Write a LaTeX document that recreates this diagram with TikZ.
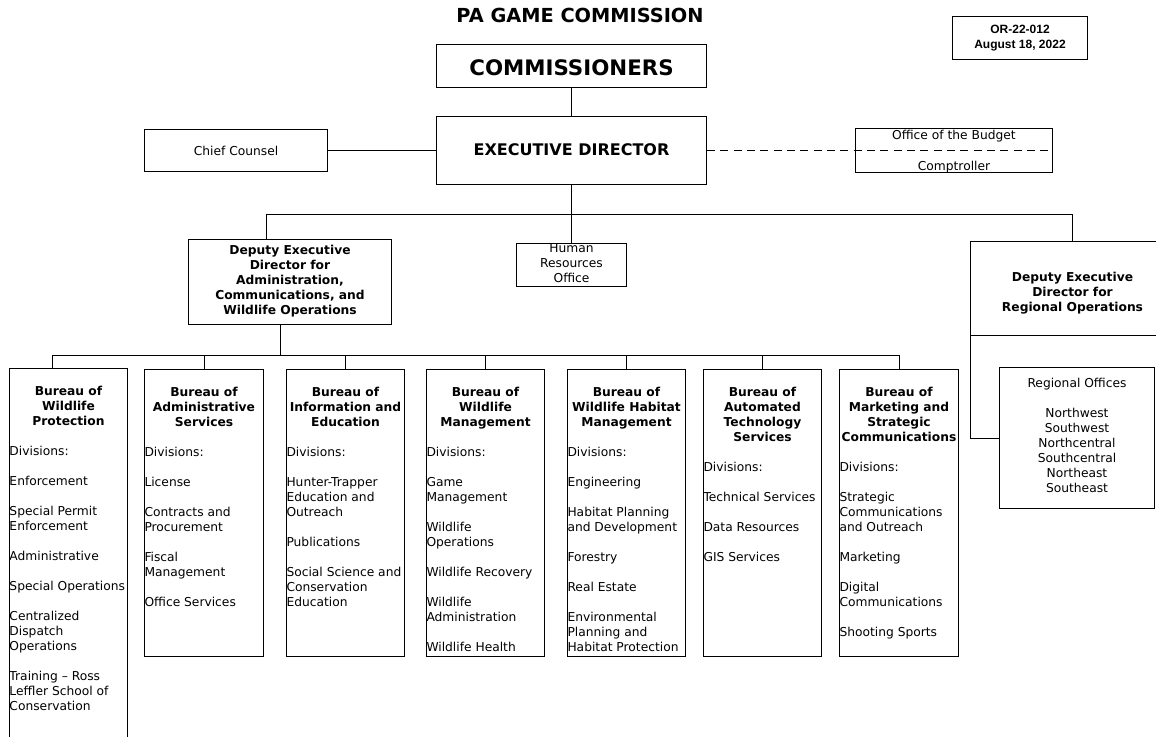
\documentclass[tikz,border=0pt]{standalone}
\usepackage{fontspec}
\setmainfont{DejaVu Sans}
\newfontfamily\orfont{Liberation Sans}
\usetikzlibrary{positioning}
\newdimen\pxu
\pxu=0.75pt
\newcommand{\orgfont}{\fontsize{9.2pt}{11.25pt}\selectfont}
\newcommand{\bl}{\\[11.25pt]}

\begin{document}
\begin{tikzpicture}[x=0.75pt, y=-0.75pt, font=\orgfont, line width=0.75pt,
    execute at begin node=\strut, execute at end node=\strut,
    box/.style={draw, inner sep=0pt, anchor=north west, align=center},
    bureau/.style={box, minimum width=118\pxu, minimum height=287\pxu},
    btitle/.style={inner sep=0pt, align=center, font=\orgfont\bfseries},
    blist/.style={inner sep=0pt, align=left, anchor=north west, yshift=-11.25pt}]
  \useasboundingbox (0,0) rectangle (1156,736);

  % top of the chart
  \node[font=\bfseries\fontsize{14.5pt}{17pt}\selectfont] (ttl) at (580,18) {PA GAME COMMISSION};
  \node[box, font=\orfont\bfseries\fontsize{9pt}{11.25pt}\selectfont, minimum width=135\pxu, minimum height=43\pxu] (orno) at (952,16) {\raisebox{-1.5pt}{OR-22-012}\\\raisebox{-1.5pt}{August 18, 2022}};
  \node[box, font=\bfseries\fontsize{16pt}{19pt}\selectfont, minimum width=270\pxu, minimum height=43\pxu] (comm) at (436,44) {\raisebox{-3pt}{COMMISSIONERS}};
  \node[box, font=\bfseries\fontsize{12pt}{14pt}\selectfont, minimum width=270\pxu, minimum height=68\pxu] (exec) at (436,116) {\raisebox{-1pt}{EXECUTIVE DIRECTOR}};
  \node[box, minimum width=183\pxu, minimum height=42\pxu] (counsel) at (144,129) {\raisebox{-1.5pt}{Chief Counsel}};
  \node[box, minimum width=197\pxu, minimum height=44\pxu] (budget) at (855,128) {};
  \node[inner sep=0pt, align=center] (budgetT) at ([yshift=-1.5pt]budget.center) {Office of the Budget\\[12pt]Comptroller};

  % deputies
  \node[box, font=\orgfont\bfseries, minimum width=203\pxu, minimum height=85\pxu] (depadm) at (188,239) {Deputy Executive\\Director for\\Administration,\\Communications, and\\Wildlife Operations};
  \node[box, minimum width=110\pxu, minimum height=43\pxu] (hr) at (516,243) {Human\\Resources\\Office};
  \node[box, minimum width=204\pxu, minimum height=94\pxu] (depreg) at (970,241) {};
  \node[btitle] (depregT) at ([yshift=-4.5pt]depreg.center) {Deputy Executive\\Director for\\Regional Operations};
  \node[box, minimum width=155\pxu, minimum height=141\pxu] (regoff) at (999,367) {Regional Offices\bl Northwest\\Southwest\\Northcentral\\Southcentral\\Northeast\\Southeast};

  % bureaus
  \node[bureau, minimum height=392\pxu] (wp) at (9,368) {};
  \node[btitle, below=18\pxu of wp.north] (wpT) {Bureau of\\Wildlife\\Protection};
  \node[blist] (wpL) at (wpT.south -| wp.west) {Divisions:\bl Enforcement\bl Special Permit\\Enforcement\bl Administrative\bl Special Operations\bl Centralized\\Dispatch\\Operations\bl Training -- Ross\\Leffler School of\\Conservation};

  \node[bureau, minimum width=119\pxu] (adm) at (144,369) {};
  \node[btitle, below=18\pxu of adm.north] (admT) {Bureau of\\Administrative\\Services};
  \node[blist] (admL) at (admT.south -| adm.west) {Divisions:\bl License\bl Contracts and\\Procurement\bl Fiscal\\Management\bl Office Services};

  \node[bureau] (info) at (286,369) {};
  \node[btitle, below=18\pxu of info.north] (infoT) {Bureau of\\Information and\\Education};
  \node[blist] (infoL) at (infoT.south -| info.west) {Divisions:\bl Hunter-Trapper\\Education and\\Outreach\bl Publications\bl Social Science and\\Conservation\\Education};

  \node[bureau] (mgmt) at (426,369) {};
  \node[btitle, below=18\pxu of mgmt.north] (mgmtT) {Bureau of\\Wildlife\\Management};
  \node[blist] (mgmtL) at (mgmtT.south -| mgmt.west) {Divisions:\bl Game\\Management\bl Wildlife\\Operations\bl Wildlife Recovery\bl Wildlife\\Administration\bl Wildlife Health};

  \node[bureau] (hab) at (567,369) {};
  \node[btitle, below=18\pxu of hab.north] (habT) {Bureau of\\Wildlife Habitat\\Management};
  \node[blist] (habL) at (habT.south -| hab.west) {Divisions:\bl Engineering\bl Habitat Planning\\and Development\bl Forestry\bl Real Estate\bl Environmental\\Planning and\\Habitat Protection};

  \node[bureau] (ats) at (703,369) {};
  \node[btitle, below=18\pxu of ats.north] (atsT) {Bureau of\\Automated\\Technology\\Services};
  \node[blist] (atsL) at (atsT.south -| ats.west) {Divisions:\bl Technical Services\bl Data Resources\bl GIS Services};

  \node[bureau, minimum width=119\pxu] (mkt) at (839,369) {};
  \node[btitle, below=18\pxu of mkt.north] (mktT) {Bureau of\\Marketing and\\Strategic\\Communications};
  \node[blist] (mktL) at (mktT.south -| mkt.west) {Divisions:\bl Strategic\\Communications\\and Outreach\bl Marketing\bl Digital\\Communications\bl Shooting Sports};

  % connectors
  \draw (comm) -- (exec);
  \draw (counsel) -- (exec);
  \draw[dash pattern=on 6pt off 4pt] (exec.east) -- (budget.east);
  \draw (exec.south) -- (hr.north);
  \draw ([xshift=-24\pxu]depadm.north) -- ++(0,-25) -| (depreg.north);
  \draw ([xshift=-10\pxu]depadm.south) -- ++(0,31);
  \draw ([xshift=-16\pxu]wp.north) -- ++(0,-13) -| (mkt.north);
  \foreach \b in {adm,info,mgmt,hab,ats}
    \draw (\b.north) -- ++(0,-14);
  \draw (depreg.south west) |- (regoff.west);
\end{tikzpicture}
\end{document}
